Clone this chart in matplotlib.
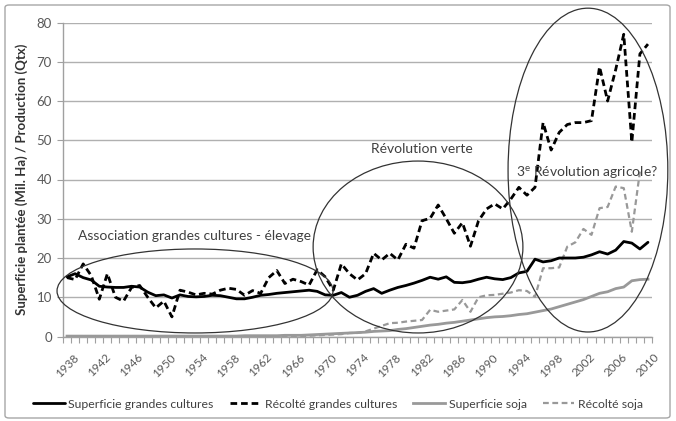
import numpy as np
import matplotlib
matplotlib.use("Agg")
import matplotlib.pyplot as plt
from matplotlib.patches import Ellipse, FancyBboxPatch

plt.rcParams['font.family'] = ['Lato', 'DejaVu Sans']
plt.rcParams['mathtext.fontset'] = 'custom'
plt.rcParams['mathtext.rm'] = 'Lato'

years = list(range(1938, 2011))

sup_gc = [15.2, 16.0, 15.0, 14.4, 12.8, 12.6, 12.5, 12.5, 12.8, 12.6,
          11.3, 10.4, 10.6, 9.8, 10.6, 10.2, 10.1, 10.2, 10.5, 10.4,
          10.0, 9.6, 9.6, 10.0, 10.5, 10.7, 11.0, 11.2, 11.4, 11.6,
          11.8, 11.5, 10.6, 10.5, 11.2, 10.0, 10.5, 11.5, 12.2, 11.0,
          11.8, 12.5, 13.0, 13.6, 14.3, 15.1, 14.6, 15.2, 13.8, 13.7,
          14.0, 14.6, 15.1, 14.7, 14.5, 15.0, 16.2, 16.6, 19.7, 19.0,
          19.3, 20.0, 20.0, 20.0, 20.2, 20.8, 21.6, 21.0, 22.0, 24.2,
          23.8, 22.3, 24.0]

rec_gc = [15.0, 14.5, 18.5, 15.5, 9.5, 16.0, 10.0, 9.0, 12.5, 13.0,
          10.0, 7.3, 9.0, 5.0, 11.8, 11.3, 10.6, 11.0, 10.8, 11.8,
          12.3, 12.0, 10.5, 11.7, 11.0, 15.0, 16.8, 13.5, 14.6, 14.0,
          13.1, 17.0, 15.2, 11.8, 18.5, 16.0, 14.4, 16.0, 21.2, 19.5,
          21.2, 19.5, 23.5, 22.5, 29.5, 30.1, 33.5, 30.0, 26.3, 29.0,
          23.0, 29.5, 32.5, 33.8, 32.5, 35.0, 38.0, 36.0, 38.0, 54.5,
          47.5, 52.0, 54.0, 54.5, 54.5, 55.0, 68.7, 60.0, 68.0, 77.0,
          49.5, 72.0, 74.5]

sup_soja = [0.1, 0.1, 0.1, 0.1, 0.1, 0.1, 0.1, 0.1, 0.1, 0.1,
            0.1, 0.1, 0.1, 0.1, 0.1, 0.1, 0.1, 0.1, 0.1, 0.1,
            0.1, 0.1, 0.2, 0.2, 0.2, 0.2, 0.2, 0.3, 0.3, 0.3,
            0.4, 0.5, 0.6, 0.7, 0.8, 0.9, 1.0, 1.1, 1.3, 1.4,
            1.5, 1.8, 2.0, 2.3, 2.6, 2.9, 3.1, 3.4, 3.6, 3.9,
            4.2, 4.5, 4.8, 5.0, 5.1, 5.3, 5.6, 5.8, 6.2, 6.6,
            7.0, 7.6, 8.2, 8.8, 9.4, 10.2, 11.0, 11.4, 12.2, 12.6,
            14.2, 14.5, 14.6]

rec_soja = [0.1, 0.1, 0.1, 0.1, 0.1, 0.1, 0.1, 0.1, 0.1, 0.1,
            0.1, 0.1, 0.1, 0.1, 0.1, 0.1, 0.1, 0.1, 0.1, 0.1,
            0.1, 0.1, 0.1, 0.1, 0.1, 0.1, 0.1, 0.1, 0.1, 0.1,
            0.2, 0.3, 0.4, 0.5, 0.6, 0.9, 0.9, 1.3, 2.0, 2.7,
            3.4, 3.5, 3.8, 4.0, 4.2, 6.8, 6.3, 6.6, 6.9, 9.3,
            6.3, 10.0, 10.5, 10.6, 10.9, 11.2, 11.8, 11.6, 10.1, 17.4,
            17.4, 17.6, 22.9, 24.0, 27.4, 25.9, 32.7, 33.0, 38.2, 37.8,
            26.7, 42.0, np.nan]

series_labels = ["Superficie grandes cultures", "Récolté grandes cultures",
                 "Superficie soja", "Récolté soja"]
y_ticks = [0, 10, 20, 30, 40, 50, 60, 70, 80]
x_tick_years = list(range(1938, 2011, 4))
y_label = "Superficie plantée (Mil. Ha) / Production (Qtx)"

fig = plt.figure(figsize=(6.76, 4.21), dpi=100)
ax = fig.add_axes([63/676, 1-336.5/421, (652-63)/676, (336.5-22.5)/421])

# outer chart border
border = FancyBboxPatch((5/676, 3/421), 665/676, 413/421,
                        boxstyle="round,pad=0,rounding_size=0.006",
                        transform=fig.transFigure, fill=False,
                        edgecolor='#a6a6a6', lw=1.0)
fig.patches.append(border)

ax.plot(years, sup_gc, color='black', lw=2.0, solid_capstyle='round', label=series_labels[0], zorder=4)
ax.plot(years, rec_gc, color='black', lw=2.0, ls=(0, (2.4, 1.4)), label=series_labels[1], zorder=4)
ax.plot(years, sup_soja, color='#999999', lw=2.0, label=series_labels[2], zorder=3)
ax.plot(years, rec_soja, color='#999999', lw=1.6, ls=(0, (2.6, 1.6)), label=series_labels[3], zorder=3)

ax.set_xlim(1937.5, 2010.5)
ax.set_ylim(0, 80)
ax.set_yticks(y_ticks)
ax.set_xticks(x_tick_years)
ax.set_xticklabels([str(y) for y in x_tick_years], rotation=45, ha='center', va='top',
                   fontsize=8.5, color='#595959')
ax.set_xticks(np.arange(1937.5, 2011, 1), minor=True)
ax.tick_params(axis='x', which='major', length=0, pad=11)
ax.tick_params(axis='x', which='minor', length=4, color='#a0a0a0', width=0.8, direction='out')
ax.tick_params(axis='y', which='major', length=4, color='#a0a0a0', width=0.8,
               labelsize=9.5, labelcolor='#595959', pad=4)

ax.grid(axis='y', color='#b0b0b0', lw=1.0)
ax.set_axisbelow(True)
for s in ['top', 'right']:
    ax.spines[s].set_visible(False)
for s in ['left', 'bottom']:
    ax.spines[s].set_color('#a0a0a0')
    ax.spines[s].set_linewidth(1.0)

ax.set_ylabel(y_label, fontsize=9.5, fontweight='bold', color='#333333', labelpad=6)

# ellipses
ell_kw = dict(fill=False, edgecolor='#333333', lw=0.9, clip_on=False, zorder=5)
ax.add_patch(Ellipse((1953.86, 11.6), 34.2, 21.4, **ell_kw))
ax.add_patch(Ellipse((1981.5, 22.8), 26.0, 43.8, **ell_kw))
ax.add_patch(Ellipse((2002.56, 42.4), 19.8, 82.5, **ell_kw))

txt_kw = dict(fontsize=10, color='#404040', ha='center', va='center', zorder=6)
ax.text(1953.8, 25.6, "Association grandes cultures - élevage", **txt_kw)
ax.text(1982.0, 47.8, "Révolution verte", **txt_kw)
ax.text(2002.5, 41.7, "3$^{\\mathrm{e}}$ Révolution agricole?", **txt_kw)

leg = fig.legend(loc='center', bbox_to_anchor=(0.5, 1-404/421), ncol=4, frameon=False,
                 fontsize=8.8, handlelength=2.6, handletextpad=0.3, columnspacing=1.3,
                 labelcolor='#404040')

fig.savefig("out.png", dpi=100)
